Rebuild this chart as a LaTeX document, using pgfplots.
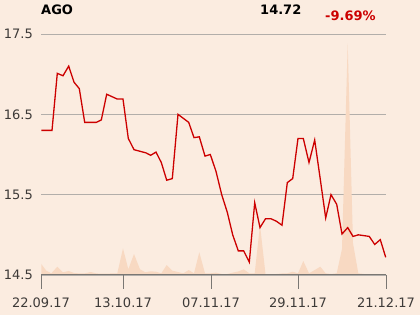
\documentclass[border=0pt]{standalone}
\usepackage{fontspec}
\setmainfont{DejaVu Sans}
\usepackage{pgfplots}
\pgfplotsset{compat=1.18}
\definecolor{bg}{HTML}{FBECE0}
\definecolor{vol}{HTML}{F8D9C2}
\definecolor{ftred}{HTML}{CC0000}
\definecolor{gridgray}{HTML}{B2AEAA}
\definecolor{axisgray}{HTML}{7A7773}
\definecolor{labelgray}{HTML}{3D3A38}
\begin{document}
\begin{tikzpicture}[x=1pt,y=1pt]
\fill[bg] (0,0) rectangle (420,315);
\begin{axis}[
  at={(41pt,40pt)}, anchor=south west,
  scale only axis, width=345pt, height=241pt,
  xmin=41, xmax=386, ymin=14.5, ymax=17.5,
  clip=false,
  axis line style={draw=none},
  xtick={41,123,211,298,386},
  xticklabels={22.09.17,13.10.17,07.11.17,29.11.17,21.12.17},
  xtick pos=bottom, ytick pos=left,
  ytick={14.5,15.5,16.5,17.5},
  yticklabels={14.5,15.5,16.5,17.5},
  ymajorgrids,
  major grid style={color=gridgray, line width=0.8pt},
  tick align=outside,
  major tick length=14pt,
  xtick style={draw=axisgray, line width=1pt},
  ytick style={draw=bg, line width=0.1pt},
  ticklabel style={font=\fontsize{13}{15}\selectfont, text=labelgray},
  xticklabel style={inner sep=0pt, anchor=north, yshift=-9pt},
  yticklabel style={inner sep=0pt, anchor=east, xshift=6pt},
]
\addplot[fill=vol, draw=none] table {
x y
41.3 14.5
41.3 14.637
46.3 14.554
51.3 14.521
57.3 14.603
63 14.534
68.7 14.55
74 14.525
79.3 14.52
84.7 14.52
90.7 14.537
96.3 14.52
101.3 14.516
106.7 14.516
112 14.52
117.3 14.52
123 14.832
128.3 14.571
134 14.761
140 14.571
145.3 14.534
150.7 14.546
156 14.541
161.3 14.521
166.7 14.624
172.3 14.554
178 14.537
183.3 14.521
188.7 14.562
194 14.521
199.3 14.783
205 14.521
210.3 14.521
216 14.529
221.7 14.512
227.3 14.512
232.7 14.529
238.3 14.544
243.7 14.571
249.3 14.521
254.7 14.521
260 15.122
265.5 14.512
271 14.512
276.3 14.512
282 14.519
287.3 14.521
292.7 14.541
298 14.521
303.3 14.674
309 14.521
314.7 14.562
320.3 14.603
325.7 14.521
331 14.512
336.7 14.521
342 14.824
347.7 17.384
353 14.895
358.3 14.521
364 14.512
369.3 14.512
374.7 14.512
380.3 14.512
385.7 14.512
385.7 14.5
};
\addplot[color=ftred, line width=1.3pt] table {
x y
41.3 16.30
46.7 16.30
52 16.30
57.3 17.01
63 16.98
68.7 17.10
74 16.90
79.3 16.82
84.7 16.40
90 16.40
96.3 16.40
101.3 16.43
106.7 16.75
112 16.72
117.3 16.69
123 16.69
128.3 16.20
134 16.06
140 16.04
146 16.02
150.7 15.99
156 16.03
161.3 15.90
166.7 15.68
172.3 15.70
178 16.50
183.3 16.45
188.7 16.40
194 16.21
199.3 16.22
205 15.98
210.3 16.00
216 15.79
221.7 15.50
227.3 15.28
232.7 15.00
238.3 14.80
243.7 14.80
249.3 14.66
254.7 15.40
260 15.09
265.5 15.20
271 15.20
276.3 15.17
282 15.12
287.3 15.65
292.7 15.70
298 16.20
303.3 16.20
309 15.90
314.7 16.18
320.3 15.69
325.7 15.21
331 15.50
336.7 15.38
342 15.01
347.7 15.09
353 14.98
358.3 15.00
364 14.99
369.3 14.98
374.7 14.88
380.3 14.94
385.7 14.72
};
\end{axis}
\draw[axisgray, line width=1pt] (41,40) -- (386,40);
\draw[axisgray, line width=1pt] (41,40) -- (41,26);
\draw[axisgray, line width=1pt] (123,40) -- (123,26);
\draw[axisgray, line width=1pt] (211,40) -- (211,26);
\draw[axisgray, line width=1pt] (298,40) -- (298,26);
\draw[axisgray, line width=1pt] (386,40) -- (386,26);
\node[anchor=base west, inner sep=0pt, font=\fontsize{13}{15}\selectfont\bfseries] at (41,300) {AGO};
\node[anchor=base west, inner sep=0pt, font=\fontsize{13}{15}\selectfont\bfseries] at (260,300) {14.72};
\node[anchor=base west, inner sep=0pt, font=\fontsize{13}{15}\selectfont\bfseries, text=ftred] at (325,294) {-9.69\%};
\end{tikzpicture}
\end{document}
